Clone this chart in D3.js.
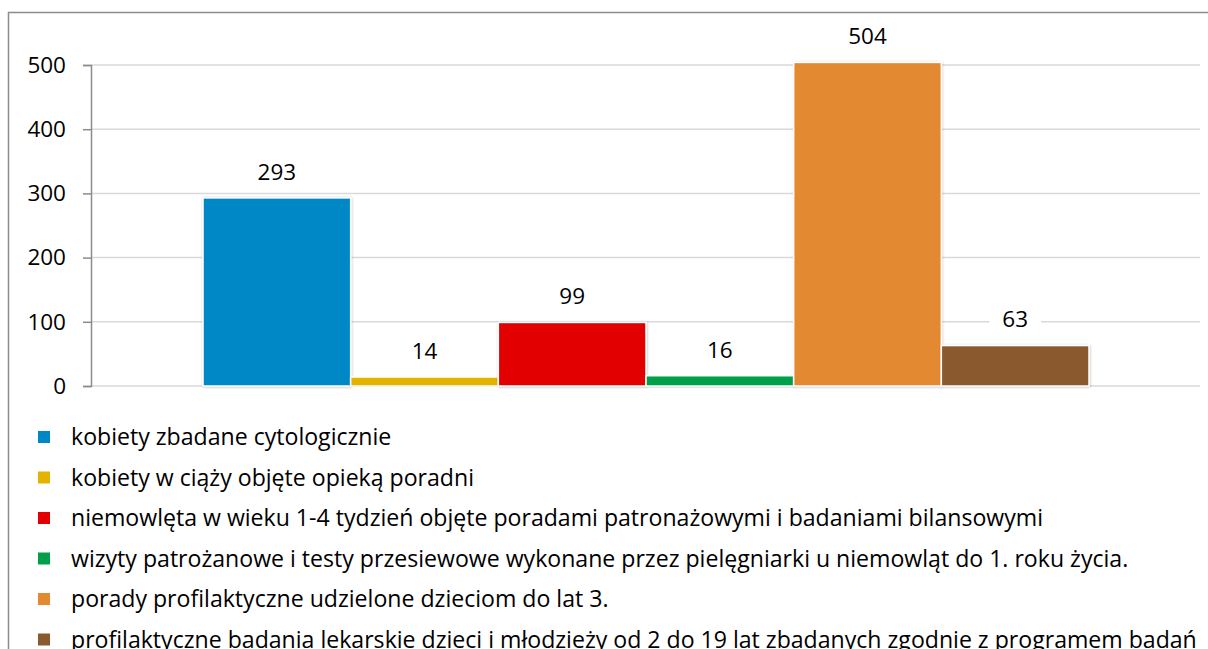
<!DOCTYPE html>
<html>
<head>
<meta charset="utf-8">
<script src="https://cdn.jsdelivr.net/npm/d3@7"></script>
<style>
  body { margin: 0; background: #fff; }
  text { font-family: "Open Sans", sans-serif; fill: #000; }
</style>
</head>
<body>
<div id="chart"></div>
<script>
var w = 1208;
var h = 649;

// data
var series = [
  "kobiety zbadane cytologicznie",
  "kobiety w ciąży objęte opieką poradni",
  "niemowlęta w wieku 1-4 tydzień objęte poradami patronażowymi i badaniami bilansowymi",
  "wizyty patrożanowe i testy przesiewowe wykonane przez pielęgniarki u niemowląt do 1. roku życia.",
  "porady profilaktyczne udzielone dzieciom do lat 3.",
  "profilaktyczne badania lekarskie dzieci i młodzieży od 2 do 19 lat zbadanych zgodnie z programem badań"
];
var values = [293, 14, 99, 16, 504, 63];
var colors = ["#0088c6", "#e3b300", "#e30000", "#00a04b", "#e38930", "#8a5a2e"];
var yTicks = [0, 100, 200, 300, 400, 500];

var svg = d3.select("#chart").append("svg")
  .attr("width", w)
  .attr("height", h);

// outer frame
svg.append("rect")
  .attr("x", 8.5).attr("y", 12.5)
  .attr("width", w + 10).attr("height", h)
  .attr("fill", "none")
  .attr("stroke", "#8c8c8c")
  .attr("stroke-width", 1.5);

var plotLeft = 91, plotRight = 1200, plotTop = 65, plotBottom = 386;

var y = d3.scaleLinear().domain([0, 500]).range([plotBottom, plotTop]);
var x = d3.scaleBand().domain(series).range([203, 1089]).paddingInner(0).paddingOuter(0);

// gridlines
svg.append("g").selectAll("line")
  .data(yTicks)
  .enter().append("line")
  .attr("x1", plotLeft).attr("x2", plotRight)
  .attr("y1", function(d) { return y(d); })
  .attr("y2", function(d) { return y(d); })
  .attr("stroke", "#d9d9d9")
  .attr("stroke-width", 1.5);

var yAxis = d3.axisLeft(y).tickValues(yTicks).tickSize(8).tickPadding(17);
var yg = svg.append("g")
  .attr("transform", "translate(" + plotLeft + ",0)")
  .call(yAxis);
yg.select(".domain").attr("stroke", "#8c8c8c").attr("stroke-width", 1.5);
yg.selectAll(".tick line").attr("stroke", "#8c8c8c").attr("stroke-width", 1.5);
yg.selectAll(".tick text").style("font-size", "22.5px").style("font-family", "Open Sans").attr("fill", "#000");

// shadow
var defs = svg.append("defs");
var f = defs.append("filter").attr("id", "sh").attr("x", "-5%").attr("y", "-5%").attr("width", "110%").attr("height", "115%");
f.append("feDropShadow").attr("dx", 0.5).attr("dy", 0.5).attr("stdDeviation", 1).attr("flood-color", "#000").attr("flood-opacity", 0.25);

svg.append("g").selectAll("rect")
  .data(values)
  .enter().append("rect")
  .attr("x", function(d, i) { return x(series[i]); })
  .attr("y", function(d) { return y(d); })
  .attr("width", x.bandwidth())
  .attr("height", function(d) { return plotBottom - y(d); })
  .attr("fill", function(d, i) { return colors[i]; })
  .attr("stroke", "#fff")
  .attr("stroke-width", 1.5)
  .attr("filter", "url(#sh)");

// value labels
var lab = svg.append("g").selectAll("g")
  .data(values)
  .enter().append("g")
  .attr("transform", function(d, i) {
    return "translate(" + (x(series[i]) + x.bandwidth() / 2) + "," + (y(d) - 26) + ")";
  });
lab.append("rect")
  .attr("x", -26).attr("y", -14).attr("width", 52).attr("height", 28)
  .attr("fill", "#fff");
lab.append("text")
  .attr("text-anchor", "middle")
  .attr("dy", "0.35em")
  .style("font-size", "22.5px")
  .text(function(d) { return d; });

// legend
var leg = svg.append("g").selectAll("g")
  .data(series)
  .enter().append("g")
  .attr("transform", function(d, i) { return "translate(38," + (437 + i * 40.5) + ")"; });
leg.append("rect")
  .attr("x", 0).attr("y", -6).attr("width", 12).attr("height", 12)
  .attr("fill", function(d, i) { return colors[i]; });
leg.append("text")
  .attr("x", 33)
  .attr("dy", "0.35em")
  .style("font-size", "23.1px")
  .text(function(d) { return d; });
</script>
</body>
</html>
